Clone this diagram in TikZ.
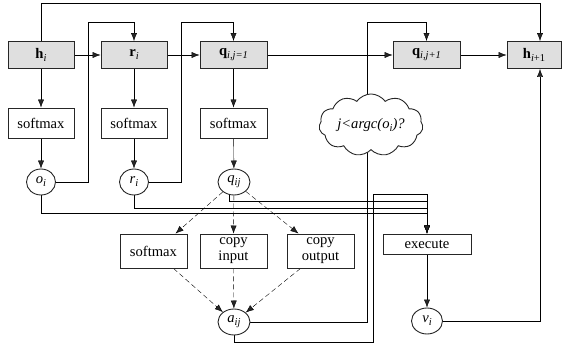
\documentclass[tikz,border=0pt]{standalone}
\usepackage{fontspec}
\setmainfont{Liberation Serif}
\usetikzlibrary{arrows.meta,shapes.symbols,shapes.geometric,backgrounds,calc}
\newcommand\mysub[1]{\raisebox{-0.45ex}{\fontsize{10.5}{11}\selectfont\itshape #1}}
\begin{document}
\begin{tikzpicture}[x=1pt,y=-1pt,
 font=\fontsize{14.6}{16}\selectfont,
 line width=0.9pt, draw=black!85,
 arr/.style={-{Latex[length=8pt,width=6pt]}},
 dsh/.style={arr,dash pattern=on 5pt off 3pt},
 gbox/.style={draw,fill=gray!25,minimum height=27pt,inner sep=0pt},
 wbox/.style={draw,fill=white,inner sep=0pt,align=center},
 circ/.style={draw,ellipse,fill=white,minimum width=31pt,minimum height=26pt,inner sep=0pt}]
\useasboundingbox (0,0) rectangle (571,350);
% top row
\node[gbox,minimum width=66pt] (hi) at (41,55) {\textbf{h}\mysub{i}};
\node[gbox,minimum width=66pt] (ri) at (134,55) {\textbf{r}\mysub{i}};
\node[gbox,minimum width=67pt] (q1) at (233.5,55) {\textbf{q}\mysub{i,j=1}};
\node[gbox,minimum width=67pt] (qj) at (426.5,55) {\textbf{q}\mysub{i,j+1}};
\node[gbox,minimum width=54pt] (hn) at (534,55) {\textbf{h}\mysub{i\upshape+1}};
% softmax row
\node[wbox,minimum width=66pt,minimum height=30pt] (sm1) at (41,123) {softmax};
\node[wbox,minimum width=66pt,minimum height=30pt] (sm2) at (134,123) {softmax};
\node[wbox,minimum width=67pt,minimum height=30pt] (sm3) at (233.5,123) {softmax};
% circles
\node[circ,minimum width=29pt] (oi) at (41,182) {\itshape o\mysub{i}};
\node[circ,minimum width=29pt] (rri) at (134,182) {\itshape r\mysub{i}};
\node[circ,minimum width=32pt] (qij) at (234,182) {\itshape q\mysub{ij}};
% cloud
\node[cloud,draw,fill=white,cloud puffs=11,cloud puff arc=110,aspect=1.9,
      minimum width=104pt,minimum height=56pt,inner sep=0pt] (cl) at (371,125)
      {\itshape j<argc(o\mysub{i})?};
% lower boxes
\node[wbox,minimum width=67pt,minimum height=34pt] (bsm) at (153.5,251) {softmax};
\node[wbox,minimum width=67pt,minimum height=34pt] (cin) at (233.5,251) {copy\\input};
\node[wbox,minimum width=67pt,minimum height=34pt] (cout) at (320.5,251) {copy\\output};
\node[wbox,minimum width=88pt,minimum height=20pt] (exe) at (427,244) {execute};
\node[circ,minimum width=32pt] (aij) at (234,322) {\itshape a\mysub{ij}};
\node[circ,minimum width=31pt] (vi) at (427,321) {\itshape v\mysub{i}};

\begin{scope}[on background layer]
% main chain
\draw[arr] (hi) -- (ri);
\draw[arr] (ri) -- (q1);
\draw[arr] (q1) -- (qj);
\draw[arr] (qj) -- (hn);
\draw[arr] (hi.north) |- (540,3) -- ([xshift=6pt]hn.north);
% down to softmax and circles
\draw[arr] (hi) -- (sm1);
\draw[arr] (ri) -- (sm2);
\draw[arr] (q1) -- (sm3);
\draw[arr] (sm1) -- (oi);
\draw[arr] (sm2) -- (rri);
\draw[arr] (sm3) -- (qij);
% feedback loops
\draw[arr] (oi.east) -| (88,22) -| (ri.north);
\draw[arr] (rri.east) -| (181,22) -| (q1.north);
\draw[arr] (cl.center -| 367,0) -- (367,22) -| (qj.north);
% lines into execute
\draw[arr] (oi.south) |- (427,213) -- (exe.north);
\draw[arr] (rri.south) |- (427,208) -- (exe.north);
\draw[arr] (qij.250) |- (427,201) -- (exe.north);
\draw[arr] (aij.south) |- (373,342) |- (427,194) -- (exe.north);
\draw (aij.east) -| (cl.center -| 367,0);
% execute to v and h
\draw[arr] (exe) -- (vi);
\draw[arr] (vi.east) -| ([xshift=6pt]hn.south);
% dashed
\draw[dsh] (qij) -- ([xshift=22pt]bsm.north);
\draw[dsh] (qij) -- (cin.north);
\draw[dsh] (qij) -- ([xshift=-22pt]cout.north);
\draw[dsh] ([xshift=20pt]bsm.south) -- (aij);
\draw[dsh] (cin.south) -- (aij);
\draw[dsh] ([xshift=-20pt]cout.south) -- (aij);
\end{scope}
\end{tikzpicture}
\end{document}
